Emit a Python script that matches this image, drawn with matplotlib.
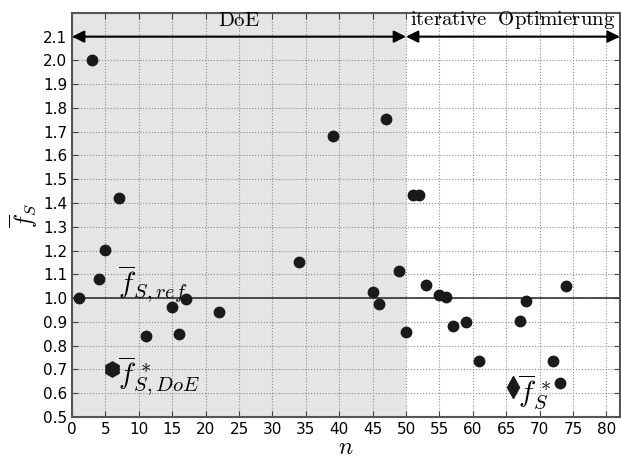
import matplotlib
matplotlib.use("Agg")
import matplotlib.pyplot as plt
import numpy as np

plt.rcParams['mathtext.fontset'] = 'cm'
plt.rcParams['font.family'] = ['DejaVu Sans']

n_vals = [1, 3, 4, 5, 7, 11, 15, 16, 17, 22, 34, 39, 45, 46, 47, 49, 50,
          51, 52, 53, 55, 56, 57, 59, 61, 67, 68, 72, 73, 74]
f_vals = [1.0, 2.0, 1.082, 1.204, 1.421, 0.84, 0.964, 0.848, 0.995, 0.942,
          1.153, 1.683, 1.024, 0.975, 1.754, 1.113, 0.858,
          1.432, 1.432, 1.057, 1.015, 1.006, 0.883, 0.9, 0.737, 0.902, 0.99,
          0.735, 0.645, 1.049]
f_ref = 1.0
doe_best = (6, 0.7)
opt_best = (66, 0.628)
doe_end = 50
x_max = 82
y_min, y_max = 0.5, 2.2
arrow_y = 2.1

fig = plt.figure(figsize=(6.21, 4.59), dpi=100)
ax = fig.add_axes([0.116, 0.0915, 0.882, 0.8805])

ax.axvspan(0, doe_end, color='#e5e5e5', zorder=0, lw=0)
ax.grid(True, linestyle=':', color='#8a8a8a', lw=0.8, zorder=1)
ax.set_axisbelow(True)
ax.axhline(f_ref, color='#333333', lw=1.2, zorder=2)

ax.plot(n_vals, f_vals, 'o', color='#1a1a1a', ms=7.5, zorder=3)
ax.plot([doe_best[0]], [doe_best[1]], 'h', color='#1a1a1a', ms=11, zorder=3)
ax.plot([opt_best[0]], [opt_best[1]], 'd', color='#1a1a1a', ms=11, zorder=3)

ax.annotate('', xy=(0, arrow_y), xytext=(doe_end, arrow_y),
            arrowprops=dict(arrowstyle='<|-|>', color='k', lw=1.5, mutation_scale=18,
                            shrinkA=0, shrinkB=0), zorder=4)
ax.annotate('', xy=(doe_end, arrow_y), xytext=(x_max, arrow_y),
            arrowprops=dict(arrowstyle='<|-|>', color='k', lw=1.5, mutation_scale=18,
                            shrinkA=0, shrinkB=0), zorder=4)

ax.text(25, 2.168, r'$\mathrm{DoE}$', ha='center', va='center', fontsize=15)
ax.text(66, 2.168, r'$\mathrm{iterative\ \ Optimierung}$', ha='center', va='center', fontsize=15)
ax.text(6.9, 1.02, r'$\overline{f}_{S,ref}$', ha='left', va='baseline', fontsize=21)
ax.text(6.9, 0.635, r'$\overline{f}_{S,DoE}^{\,*}$', ha='left', va='baseline', fontsize=21)
ax.text(66.8, 0.565, r'$\overline{f}_{S}^{\,*}$', ha='left', va='baseline', fontsize=21)

ax.set_xlim(0, x_max)
ax.set_ylim(y_min, y_max)
ax.set_xticks(np.arange(0, 81, 5))
ax.set_yticks(np.round(np.arange(0.5, 2.11, 0.1), 1))
ax.tick_params(direction='in', top=True, right=True, labelsize=11, length=4, color='#444444')
for s in ax.spines.values():
    s.set_color('#555555')
    s.set_linewidth(1.5)

ax.set_xlabel(r'$n$', fontsize=17)
ax.set_ylabel(r'$\overline{f}_S$', fontsize=17)
ax.xaxis.set_label_coords(0.5, -0.045)
ax.yaxis.set_label_coords(-0.058, 0.5)

fig.savefig('out.png', dpi=100)
